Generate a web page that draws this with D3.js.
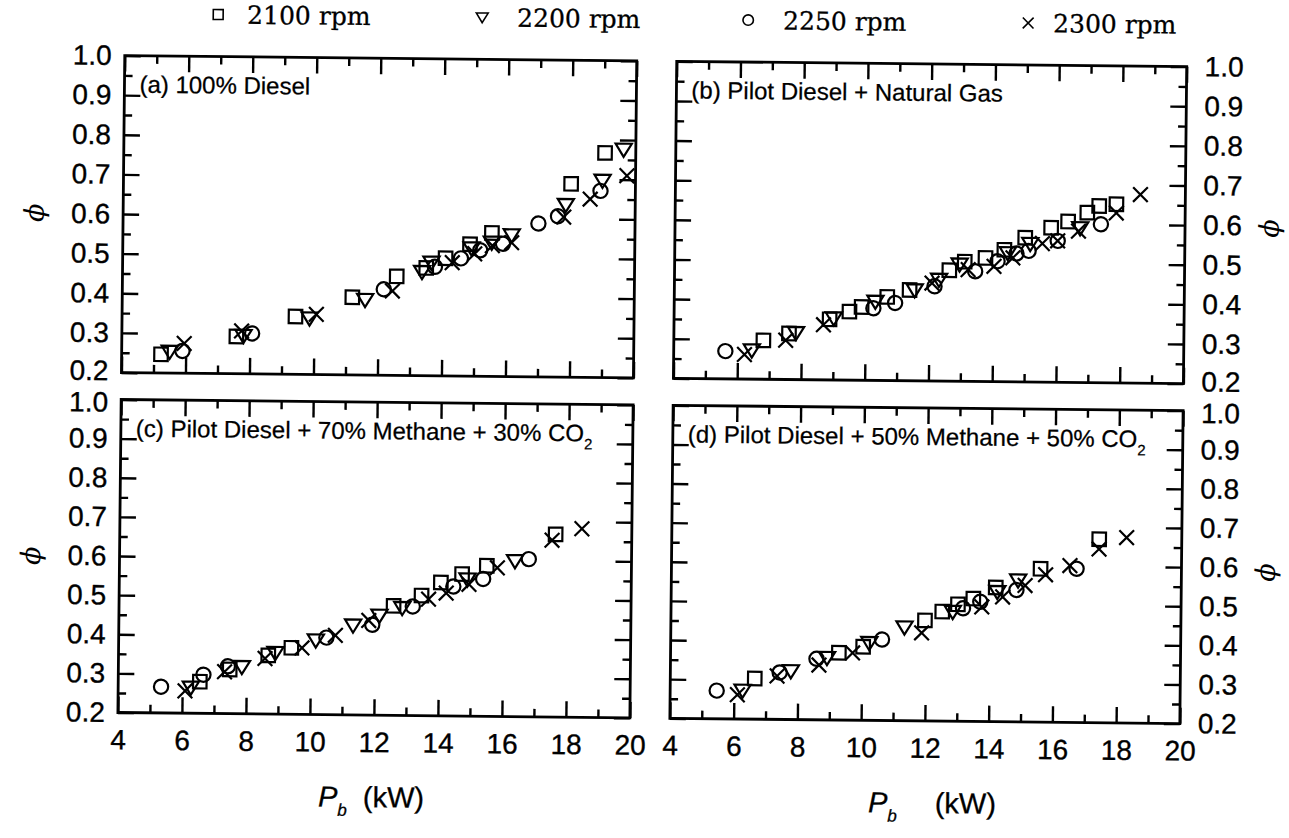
<!DOCTYPE html>
<html>
<head>
<meta charset="utf-8">
<script src="https://cdn.jsdelivr.net/npm/d3@7"></script>
<style>
  body { margin: 0; background: #fff; }
  svg { display: block; }
</style>
</head>
<body>
<svg id="chart" width="1289" height="838"></svg>
<script>
// Engine speeds shown in the legend and the marker used for each
const speeds = ["2100 rpm", "2200 rpm", "2250 rpm", "2300 rpm"];
const markerKinds = ["square", "triangle", "circle", "cross"];

// Panel titles
const panelTitles = [
  "(a) 100% Diesel",
  "(b) Pilot Diesel + Natural Gas",
  "(c) Pilot Diesel + 70% Methane + 30% CO",
  "(d) Pilot Diesel + 50% Methane + 50% CO"
];
const panelSubscripts = ["", "", "2", "2"];

// Axis ticks
const xTicks = [4, 6, 8, 10, 12, 14, 16, 18, 20];
const xMinorTicks = [5, 7, 9, 11, 13, 15, 17, 19];
const yTicks = [0.2, 0.3, 0.4, 0.5, 0.6, 0.7, 0.8, 0.9, 1.0];
const yMinorTicks = [0.25, 0.35, 0.45, 0.55, 0.65, 0.75, 0.85, 0.95];

// Equivalence ratio phi vs brake power Pb (kW): [Pb, phi]
// (a) 100% Diesel
const a2100 = [[5.23,0.247],[7.58,0.294],[9.42,0.346],[11.19,0.396],[12.57,0.45],[13.49,0.472],[14.09,0.497],[14.85,0.533],[15.53,0.562],[17.99,0.688],[19.04,0.767]];
const a2200 = [[5.5,0.254],[7.8,0.296],[9.86,0.342],[11.59,0.39],[13.36,0.462],[13.65,0.486],[14.9,0.523],[15.53,0.538],[16.15,0.557],[17.83,0.635],[18.97,0.697],[19.62,0.776]];
const a2250 = [[5.9,0.256],[8.07,0.302],[12.17,0.417],[13.76,0.475],[14.57,0.497],[15.17,0.518],[15.88,0.535],[16.98,0.587],[17.59,0.606],[18.91,0.671]];
const a2300 = [[5.95,0.275],[7.74,0.308],[10.07,0.352],[12.44,0.413],[14.3,0.486],[15.0,0.509],[15.55,0.53],[16.15,0.538],[17.77,0.604],[18.59,0.65],[19.73,0.71]];

// (b) Pilot Diesel + Natural Gas
const b2100 = [[6.81,0.298],[7.61,0.316],[8.88,0.353],[9.5,0.373],[9.88,0.385],[10.68,0.411],[11.38,0.429],[12.62,0.48],[13.1,0.502],[13.75,0.512],[14.34,0.533],[14.99,0.564],[15.8,0.59],[16.33,0.606],[16.93,0.629],[17.3,0.646],[17.84,0.651]];
const b2200 = [[6.45,0.273],[7.83,0.318],[9.01,0.356],[10.31,0.399],[11.54,0.429],[12.3,0.456],[12.94,0.495],[14.45,0.525],[15.15,0.549],[16.71,0.59]];
const b2250 = [[5.62,0.27],[10.25,0.382],[10.93,0.396],[12.16,0.439],[13.43,0.478],[14.13,0.504],[14.72,0.524],[15.1,0.531],[16.01,0.557],[17.36,0.6]];
const b2300 = [[6.22,0.262],[7.51,0.299],[8.69,0.339],[12.08,0.447],[13.21,0.482],[14.02,0.491],[14.61,0.513],[15.53,0.55],[16.01,0.557],[16.66,0.582],[17.84,0.629],[18.59,0.676]];

// (c) Pilot Diesel + 70% Methane + 30% CO2
const c2100 = [[6.55,0.281],[7.48,0.313],[8.68,0.35],[9.4,0.37],[12.58,0.48],[13.45,0.507],[14.05,0.541],[14.71,0.563],[15.48,0.585],[17.62,0.667]];
const c2200 = [[6.27,0.266],[7.86,0.32],[8.9,0.357],[10.16,0.39],[11.32,0.429],[12.14,0.455],[12.85,0.475],[14.88,0.55],[16.36,0.598]];
const c2250 = [[5.34,0.267],[6.66,0.299],[7.42,0.321],[10.49,0.397],[11.92,0.431],[13.18,0.479],[14.44,0.531],[15.37,0.551],[16.79,0.603]];
const c2300 = [[6.09,0.257],[7.32,0.307],[8.58,0.342],[9.73,0.37],[10.77,0.403],[11.81,0.442],[13.67,0.498],[14.22,0.514],[14.93,0.537],[15.81,0.58],[17.51,0.652],[18.44,0.682]];

// (d) Pilot Diesel + 50% Methane + 50% CO2
const d2100 = [[6.65,0.304],[9.28,0.372],[10.04,0.388],[11.97,0.457],[12.51,0.48],[13.0,0.499],[13.48,0.514],[14.18,0.543],[15.58,0.592],[17.41,0.669]];
const d2200 = [[6.27,0.273],[7.78,0.324],[8.91,0.359],[10.23,0.398],[11.33,0.439],[12.84,0.48],[14.23,0.532],[14.88,0.562]];
const d2250 = [[5.46,0.272],[7.43,0.32],[8.58,0.356],[10.63,0.407],[13.16,0.489],[13.7,0.506],[14.83,0.537],[16.71,0.593]];
const d2300 = [[6.11,0.262],[7.35,0.311],[8.66,0.34],[9.71,0.372],[11.87,0.425],[13.75,0.493],[14.4,0.519],[15.1,0.549],[15.74,0.577],[16.5,0.601],[17.41,0.644],[18.27,0.674]];

const panelSeries = [
  [a2100, a2200, a2250, a2300],
  [b2100, b2200, b2250, b2300],
  [c2100, c2200, c2250, c2300],
  [d2100, d2200, d2250, d2300]
];

// ---- layout ----
const columns = [{ x0: 121, x1: 633 }, { x0: 673, x1: 1183 }];
const rows = [{ y0: 61, y1: 378 }, { y0: 405, y1: 718 }];
const sansFont = "'Liberation Sans', Arial, Helvetica, sans-serif";
const serifFont = "'DejaVu Serif', 'Liberation Serif', serif";

const svg = d3.select("#chart");
svg.append("rect").attr("width", 1289).attr("height", 838).attr("fill", "#fff");
// the whole sheet sits slightly skewed
const root = svg.append("g").attr("transform", "rotate(0.6, 644, 419)");

function drawMarker(g, kind, cx, cy, s, sw) {
  const h = s / 2;
  const common = sel => sel.attr("fill", "none").attr("stroke", "#000").attr("stroke-width", sw);
  if (kind === "square") {
    const q = h * 0.9;
    g.append("rect").attr("x", cx - q).attr("y", cy - q)
      .attr("width", 2 * q).attr("height", 2 * q).call(common);
  } else if (kind === "triangle") {
    const pts = [[cx - h * 1.08, cy - h * 0.78], [cx + h * 1.08, cy - h * 0.78], [cx, cy + h * 0.98]];
    g.append("path").attr("d", d3.line()(pts) + "Z").call(common);
  } else if (kind === "circle") {
    g.append("circle").attr("cx", cx).attr("cy", cy).attr("r", h * 0.95).call(common);
  } else {
    const k = h * 0.98;
    g.append("path").attr("d", `M${cx - k},${cy - k}L${cx + k},${cy + k}M${cx - k},${cy + k}L${cx + k},${cy - k}`)
      .call(common);
  }
}

const panels = [
  { col: 0, row: 0, ySide: "left", xLabels: false },
  { col: 1, row: 0, ySide: "right", xLabels: false },
  { col: 0, row: 1, ySide: "left", xLabels: true },
  { col: 1, row: 1, ySide: "right", xLabels: true }
];

const styleAxis = sel => {
  sel.select(".domain").remove();
  sel.selectAll(".tick line").attr("stroke", "#000").attr("stroke-width", 2.4);
  sel.selectAll(".tick text").attr("fill", "#000").attr("stroke", "#000").attr("stroke-width", 0.35)
    .style("font-family", sansFont).style("font-size", "28px");
};

panels.forEach((p, i) => {
  const c = columns[p.col], r = rows[p.row];
  const x = d3.scaleLinear().domain([4, 20]).range([c.x0, c.x1]);
  const y = d3.scaleLinear().domain([0.2, 1.0]).range([r.y1, r.y0]);
  const g = root.append("g");

  // minor + major ticks on all four sides, pointing inward
  const sides = [
    [d3.axisBottom, "x", `translate(0,${r.y1})`],
    [d3.axisTop, "x", `translate(0,${r.y0})`],
    [d3.axisLeft, "y", `translate(${c.x0},0)`],
    [d3.axisRight, "y", `translate(${c.x1},0)`]
  ];
  sides.forEach(([axisFn, dim, tr]) => {
    const sc = dim === "x" ? x : y;
    const minor = dim === "x" ? xMinorTicks : yMinorTicks;
    const major = dim === "x" ? xTicks : yTicks;
    g.append("g").attr("transform", tr)
      .call(axisFn(sc).tickValues(minor).tickSize(-8).tickFormat(""))
      .call(styleAxis);
    g.append("g").attr("transform", tr)
      .call(axisFn(sc).tickValues(major).tickSize(-16).tickFormat(""))
      .call(styleAxis);
  });

  // tick labels
  const yl = p.ySide === "left"
    ? g.append("g").attr("transform", `translate(${c.x0},0)`)
        .call(d3.axisLeft(y).tickValues(yTicks).tickSize(0).tickPadding(13).tickFormat(d3.format(".1f")))
    : g.append("g").attr("transform", `translate(${c.x1},0)`)
        .call(d3.axisRight(y).tickValues(yTicks).tickSize(0).tickPadding(18).tickFormat(d3.format(".1f")));
  yl.call(styleAxis);
  // ends of the stacked scales: keep the adjoining 0.2 / 1.0 labels apart
  yl.selectAll(".tick text").attr("dy", d => d === 0.2 && p.row === 0 ? "0.26em" : d === 1.0 && p.row === 1 ? "0.42em" : "0.32em");

  if (p.xLabels) {
    g.append("g").attr("transform", `translate(0,${r.y1})`)
      .call(d3.axisBottom(x).tickValues(xTicks).tickSize(0).tickPadding(17).tickFormat(d3.format("d")))
      .call(styleAxis);
  }

  // frame
  g.append("rect").attr("x", c.x0).attr("y", r.y0)
    .attr("width", c.x1 - c.x0).attr("height", r.y1 - r.y0)
    .attr("fill", "none").attr("stroke", "#000").attr("stroke-width", 2.8);

  // title
  const t = g.append("text").attr("x", c.x0 + 15).attr("y", r.y0 + 37)
    .style("font-family", sansFont).style("font-size", "24px").attr("fill", "#000")
    .attr("stroke", "#000").attr("stroke-width", 0.25)
    .text(panelTitles[i]);
  if (panelSubscripts[i]) {
    t.append("tspan").attr("dy", 8).style("font-size", "15px").text(panelSubscripts[i]);
  }

  // data
  const mg = g.append("g");
  panelSeries[i].forEach((series, si) => {
    series.forEach(([pb, phi]) => drawMarker(mg, markerKinds[si], x(pb), y(phi), 15, 2.2));
  });
});

// y-axis titles (phi), rotated
const phiPos = [[32, 219], [32, 562], [1267, 222], [1267, 566]];
phiPos.forEach(([px, py]) => {
  root.append("text").attr("transform", `translate(${px},${py}) rotate(-90)`)
    .attr("text-anchor", "middle").attr("dy", "0.35em")
    .style("font-family", serifFont).style("font-style", "italic").style("font-size", "27px")
    .text("\u03D5");
});

// x-axis titles
const xTitle = [{ cx: 322, gap: 16 }, { cx: 872, gap: 38 }];
xTitle.forEach(({ cx, gap }) => {
  const t = root.append("text").attr("x", cx).attr("y", 810)
    .style("font-family", sansFont).style("font-size", "29px").attr("fill", "#000")
    .attr("stroke", "#000").attr("stroke-width", 0.3);
  t.append("tspan").style("font-style", "italic").text("P");
  t.append("tspan").attr("dy", 9).style("font-style", "italic").style("font-size", "17px").text("b");
  t.append("tspan").attr("dy", -9).attr("dx", gap).text("(kW)");
});

// legend
const legendX = [214, 478, 744, 1024];
const legendTextX = [243, 513, 779, 1049];
speeds.forEach((s, i) => {
  drawMarker(root, markerKinds[i], legendX[i], 19, 11, 1.6);
  root.append("text").attr("x", legendTextX[i]).attr("y", 28)
    .style("font-family", serifFont).style("font-size", "25px").attr("fill", "#000")
    .attr("stroke", "#000").attr("stroke-width", 0.3)
    .text(s);
});
</script>
</body>
</html>
